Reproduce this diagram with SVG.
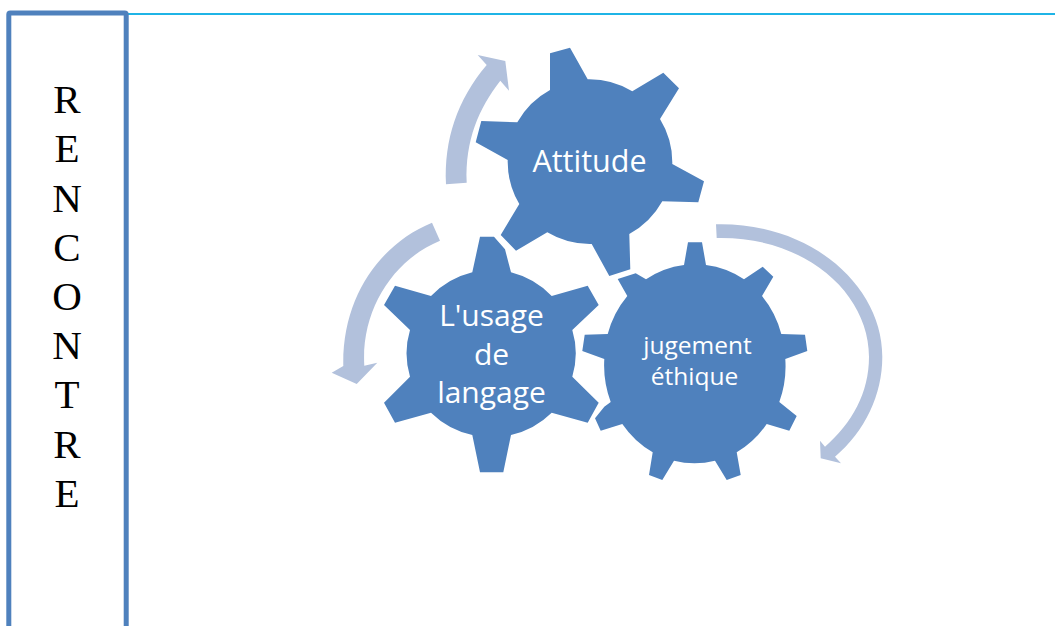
<svg xmlns="http://www.w3.org/2000/svg" width="1055" height="626" viewBox="0 0 1055 626">
<style>
.gear{fill:#4f81bd}
.arrow{fill:#b2c1dc}
.lbl{font-family:"Open Sans",sans-serif;fill:#fff;text-anchor:middle}
.a{font-size:30.5px}
.u{font-size:30px}
.j{font-size:24.5px}
.v{font-family:"Liberation Serif",serif;font-size:41px;fill:#000;text-anchor:middle}
</style>
<rect width="1055" height="626" fill="#fff"/>
<line x1="128" y1="14" x2="1055" y2="14" stroke="#1fb4e6" stroke-width="2"/>
<g id="rencontre">
<rect x="8.8" y="13" width="117.4" height="625" rx="1.5" fill="#fff" stroke="#4f81bd" stroke-width="5"/>
<text class="v" x="67" y="113">R</text>
<text class="v" x="67" y="162">E</text>
<text class="v" x="67" y="212">N</text>
<text class="v" x="67" y="261">C</text>
<text class="v" x="67" y="310">O</text>
<text class="v" x="67" y="359">N</text>
<text class="v" x="67" y="408">T</text>
<text class="v" x="67" y="458">R</text>
<text class="v" x="67" y="507">E</text>
</g>
<g id="connectors">
<path class="arrow" d="M446 184.3C444 140 457 100 486.7 65L477.7 55L505.3 61L509 90.7L500.3 80.7C479 108 465 140 466.7 182.7Z"/>
<path class="arrow" d="M432 222.7C382 243 342 295 343.3 366L331.7 372.7L356.7 384L377.3 362.7L364.3 365.7C361 310 393 260 440 240.7Z"/>
<path class="arrow" d="M716 224.3C810 222 882.3 285 882.3 356.7C882.3 395 865 431 835 456.7L841 463.3L820.7 458.3L820 440.7L825 446.7C852 423 869 393 869 356.7C869 293 805 236 716.7 238Z"/>
</g>
<g id="attitude">
<path class="gear" d="M550 53.3L570 47.7L587.7 79.3A83 83 0 0 1 632.3 91.3L663.3 72.7L679 88.3L660 119A83 83 0 0 1 672.3 164L704 181.3L698.3 202.3L662.3 201.3A83 83 0 0 1 629.3 234L630.3 269.3L609.3 276L591.7 244A83 83 0 0 1 547.3 232.3L516 250.7L500.7 235L519.3 204A83 83 0 0 1 507.7 160L475.7 142.3L481.3 121L517.3 122.3A83 83 0 0 1 550 90Z"/>
<text class="lbl a" x="589.5" y="172">Attitude</text>
</g>
<g id="usage">
<path class="gear" d="M480 236.7L494 236.7L505 249.3L511 272.3A85 83 0 0 1 551.7 296L587.7 285.7L598.7 305L572.3 330A85 83 0 0 1 572.3 376.7L598.7 402.7L587.7 422.7L551.7 412.7A85 83 0 0 1 511 435L503.3 472.3L480 472.3L472.3 435A85 83 0 0 1 431 412.7L395 422.7L384 402.7L410 376.7A85 83 0 0 1 410 330L384 305L395 285.7L431 296A85 83 0 0 1 472.3 272.3Z"/>
<text class="lbl u" x="491.5" y="326">L'usage</text>
<text class="lbl u" x="491.5" y="365">de</text>
<text class="lbl u" x="491.5" y="403">langage</text>
</g>
<g id="jugement">
<path class="gear" d="M688 242.3L702 242.3L706 265A91 98 0 0 1 744 279.3L762.7 266.7L773.3 276.7L762 296A91 98 0 0 1 781.3 334L805 334.7L807.3 351L785.3 359A91 98 0 0 1 779.3 402L796.7 416L789.3 430.7L766.7 424A91 98 0 0 1 736.7 452.3L740.7 475L726.7 480L715 460.7A91 98 0 0 1 674 460.7L662.3 480L649 475L652.7 452.3A91 98 0 0 1 622.3 424L600.7 430.7L595 418.3L604.3 406.7L610.7 402A91 98 0 0 1 604.3 359L582.3 351L584.7 334.7L607.7 334A91 98 0 0 1 627.3 296L617.7 279L635.7 273.3L646 279.3A91 98 0 0 1 684 265Z"/>
<text class="lbl j" x="697.5" y="354">jugement</text>
<text class="lbl j" x="694.5" y="385">éthique</text>
</g>
</svg>
